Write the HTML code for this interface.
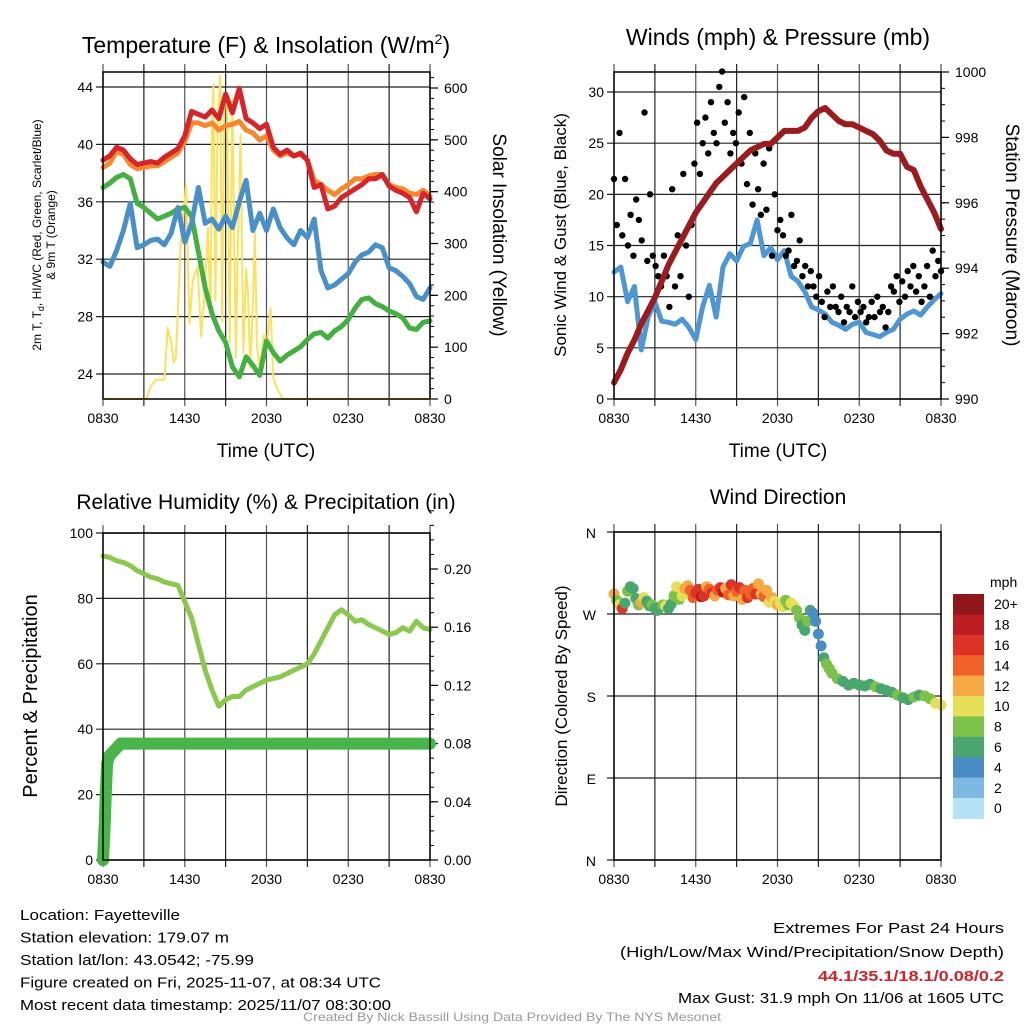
<!DOCTYPE html>
<html><head><meta charset="utf-8">
<style>
html,body{margin:0;padding:0;background:#fff;}
svg{display:block;font-family:"Liberation Sans",sans-serif;}
</style></head>
<body>
<svg id="root" xmlns="http://www.w3.org/2000/svg" width="1024" height="1024" viewBox="0 0 1024 1024"></svg>
<script>
// ---------- DATA ----------
const tempRed = [38.9,39.2,39.8,39.6,39.0,38.6,38.7,38.8,38.7,39.1,39.4,39.7,40.6,42.3,42.1,41.9,42.4,41.8,43.5,42.2,43.9,41.8,41.5,41.1,41.4,39.8,39.3,39.6,39.2,39.4,38.9,37.0,37.2,35.5,35.7,36.3,36.6,36.9,37.2,37.6,37.6,37.9,37.1,36.8,36.6,36.3,35.3,36.6,36.2];
const tempOrange = [38.4,38.7,39.5,39.3,38.6,38.3,38.4,38.5,38.5,38.8,39.1,39.4,40.2,41.5,41.5,41.3,41.5,41.0,41.3,41.4,41.6,41.0,40.8,40.3,40.6,39.6,39.2,39.4,39.2,39.3,38.9,37.5,37.2,36.8,36.5,36.9,37.2,37.6,37.6,37.8,37.9,37.9,37.2,37.0,36.9,36.6,36.5,36.8,36.4];
const tempGreen = [37.0,37.3,37.7,37.9,37.6,35.9,35.6,35.2,34.8,35.0,35.2,35.5,35.6,35.0,32.5,30.0,28.2,27.0,26.2,24.5,23.8,25.2,24.6,23.9,26.3,25.5,24.9,25.3,25.6,25.9,26.4,26.8,26.9,26.5,27.0,27.3,27.8,28.6,29.2,29.3,28.9,28.7,28.4,28.2,27.9,27.2,27.1,27.6,27.7];
const tempBlue = [31.8,31.5,32.6,34.0,35.9,32.8,33.0,33.3,33.4,33.0,33.8,35.6,33.2,34.5,37.0,34.5,34.8,34.1,35.0,34.2,36.0,37.5,34.0,35.2,34.0,35.5,34.2,33.5,33.0,34.0,33.5,34.8,31.2,30.0,30.2,30.6,31.0,31.8,32.3,32.5,33.0,32.8,31.4,31.2,30.8,30.3,29.4,29.2,30.0];
const solarT = [0,3.2,3.5,3.9,4.5,4.75,5.0,5.2,5.35,5.7,6.1,6.35,6.6,6.95,7.2,7.45,7.7,7.9,8.0,8.1,8.25,8.4,8.6,8.75,8.9,9.1,9.3,9.5,9.75,9.9,10.1,10.3,10.5,10.65,10.8,11.0,11.15,11.3,11.5,11.8,12.0,12.3,12.5,12.8,13.2,24];
const solarV = [0,0,25,37,37,137,110,70,80,300,413,145,230,255,120,200,330,160,520,606,190,520,624,150,560,590,110,580,80,300,510,90,250,200,60,180,320,100,60,124,100,175,40,19,0,0];
const windSpeed = [12.4,12.9,9.5,11,4.8,8,9.5,7.6,7.5,7.3,7.8,7.0,5.8,9.0,11.1,8.0,12.9,14.2,13.5,14.9,15.2,17.5,14.0,14.8,13.6,14.5,12.0,11.5,10.5,9.0,8.7,8.3,7.5,7.2,6.8,7.3,7.5,6.5,6.3,6.1,6.5,6.8,7.8,8.3,8.6,8.2,9.0,9.7,10.3];
const windGust = [21.5,17,26,16,21.5,15,18,14,19.5,17.5,15.5,28,13.5,20,14,13,12,11,14,12,9,20.5,11,16,12,22,15,10,17,23,27,22,25,27.5,24,29,26,25,30.5,32,27,29,24,26,25,28,23,29.5,21,26,19,24,20.5,18,23,18.5,24.5,14,20,16.5,17.5,16,14,14.5,18,13,13.5,15.5,12,13,11,12.5,11,10,12,9.5,8,10.5,9,11,9,8.5,10,7.5,9,8.5,11,8,9.5,8.5,9,7.5,8,9.5,8,10,8.5,9,7,8.5,11,10.5,12,9.5,11.5,10,12.5,11,13,10.5,12,9.5,11,13,10,14.5,12,13.5,12.5];
const pressure = [990.5,990.9,991.4,991.8,992.3,992.7,993.1,993.6,994.1,994.5,994.9,995.3,995.7,996.0,996.3,996.6,996.8,997.0,997.2,997.4,997.6,997.7,997.8,997.8,998.0,998.2,998.2,998.2,998.3,998.6,998.8,998.9,998.7,998.5,998.4,998.4,998.3,998.2,998.1,997.9,997.6,997.5,997.5,997.1,997.0,996.5,996.1,995.7,995.2];
const rh = [93,92.5,91.5,91,90,88.5,87.5,86.5,86,85,84.5,84,79,74,66,58,52,47,49,50,50,52,53,54,55,55.5,56,57,58,59,60,63,67,71,75,76.5,75,73,73.5,72,71,70,69,69.5,71,70,73,71,70.5];
const precipT = [0,0.05,0.1,0.15,0.2,0.3,0.4,0.5,0.7,0.9,1.1,1.3,1.6,2,4,8,12,16,20,24];
const precipV = [0,0.01,0.02,0.028,0.045,0.066,0.07,0.072,0.074,0.076,0.078,0.08,0.08,0.08,0.08,0.08,0.08,0.08,0.08,0.08];
const dirT = [0,0.2,0.4,0.6,0.8,1.0,1.2,1.4,1.6,1.8,2.0,2.2,2.4,2.6,2.8,3.0,3.2,3.4,3.6,3.8,4.0,4.2,4.4,4.6,4.8,5.0,5.2,5.4,5.6,5.8,6.0,6.2,6.4,6.6,6.8,7.0,7.2,7.4,7.6,7.8,8.0,8.2,8.4,8.6,8.8,9.0,9.2,9.4,9.6,9.8,10.0,10.2,10.4,10.6,10.8,11.0,11.2,11.4,11.6,11.8,12.0,12.2,12.4,12.6,12.8,13.0,13.2,13.4,13.6,13.8,14.0,14.2,14.4,14.6,14.8,15.0,15.2,15.4,15.6,15.8,16.0,16.4,16.8,17.2,17.6,18.0,18.4,18.8,19.2,19.6,20.0,20.4,20.8,21.2,21.6,22.0,22.4,22.8,23.2,23.6,24.0];
const dirDeg = [292,285,280,276,282,295,300,298,287,280,283,288,284,279,280,276,274,278,280,279,276,281,290,300,286,290,298,301,296,288,293,297,289,290,300,297,293,290,296,299,294,298,291,302,290,295,299,286,296,288,292,298,292,303,292,289,296,283,288,284,280,282,278,285,280,282,279,274,266,258,252,262,274,271,262,248,235,222,215,210,205,199,196,192,194,192,191,193,190,188,186,184,181,178,176,179,181,180,177,172,170];
const dirSpd = [12,9,10,16,7,8,6,7,6,8,12,10,7,6,8,6,7,6,8,10,7,6,9,11,9,10,12,13,15,14,16,17,18,16,13,15,17,12,14,16,18,13,15,17,12,14,16,13,15,17,14,15,16,13,12,14,13,11,12,10,12,11,10,9,8,11,10,9,8,7,7,8,6,4,5,4,5,7,8,9,8,9,7,6,7,7,6,7,8,7,6,7,8,6,7,8,7,8,8,10,11];
const speedColors = ["#b5e2f6","#7eb9e1","#4a8dc6","#4aa66f","#7cc24a","#e5df57","#f6a843","#f06128","#dd3327","#bb1d23","#8f1619"];
const speedLabels = ["0","2","4","6","8","10","12","14","16","18","20+"];
const timeTicks = ["0830","1430","2030","0230","0830"];
const tempTicks = [24,28,32,36,40,44];
const solarTicks = [0,100,200,300,400,500,600];
const windTicks = [0,5,10,15,20,25,30];
const presTicks = [990,992,994,996,998,1000];
const rhTicks = [0,20,40,60,80,100];
const precipTicks = [0,0.04,0.08,0.12,0.16,0.2];
const dirLabels = ["N","E","S","W","N"];
const dirValues = [0,90,180,270,360];

// ---------- HELPERS ----------
const NS="http://www.w3.org/2000/svg";
const root=document.getElementById('root');
function el(tag,attrs,parent){const e=document.createElementNS(NS,tag);for(const k in attrs)e.setAttribute(k,attrs[k]);(parent||root).appendChild(e);return e;}
function txt(s,x,y,size,anchor,parent,extra){const e=el('text',Object.assign({x:x,y:y,'font-size':size,'text-anchor':anchor||'start',fill:'#000'},extra||{}),parent);e.textContent=s;return e;}

function panel(name,x0,y0,w,h){
  const g=el('g',{});
  
  
  const xs=t=>x0+t/24*w;
  for(let i=0;i<=8;i++){
    const x=xs(i*3);
    const l=el('line',{x1:x,x2:x,y1:y0-8,y2:y0+h+7,stroke:i%2?'#222':'#555','stroke-width':1.2},g);
    
    
  }
  timeTicks.forEach((s,i)=>{const t=txt(s,xs(i*6),y0+h+24,14,'middle',g);
    
    });
  return {g,xs,x0,y0,w,h};
}
function hgrid(p,vals,ys,withGrid){
  vals.forEach(v=>{const y=ys(v);
    if(withGrid){const l=el('line',{x1:p.x0-7,x2:p.x0+p.w,y1:y,y2:y,stroke:'#222','stroke-width':1.2},p.g);
      
      }
  });
}
function leftLabels(p,vals,ys,fmt){
  vals.forEach(v=>{const t=txt(fmt?fmt(v):String(v),p.x0-10,ys(v)+5,14,'end',p.g);
    
    });
}
function rightAxis(p,vals,ys,fmt,minorStep,lo,hi){
  for(let v=lo;v<=hi+1e-9;v+=minorStep){const y=ys(v);el('line',{x1:p.x0+p.w,x2:p.x0+p.w+4,y1:y,y2:y,stroke:'#000','stroke-width':1},p.g);}
  vals.forEach(v=>{const y=ys(v);
    el('line',{x1:p.x0+p.w,x2:p.x0+p.w+8,y1:y,y2:y,stroke:'#000','stroke-width':1.2},p.g);
    const t=txt(fmt?fmt(v):String(v),p.x0+p.w+14,y+5,14,'start',p.g);
    
    });
}
function frame(p){const r=el('rect',{x:p.x0,y:p.y0,width:p.w,height:p.h,fill:'none',stroke:'#000','stroke-width':1.5},p.g);
  
  }
function series(p,vals,ys,color,width,name){
  const n=vals.length;
  const pts=vals.map((v,i)=>p.xs(i*24/(n-1)).toFixed(1)+','+ys(v).toFixed(1)).join(' ');
  const l=el('polyline',{points:pts,fill:'none',stroke:color,'stroke-width':width,'stroke-linejoin':'round','stroke-linecap':'round'},p.g);
  
  
  return l;
}
function seriesXY(p,ts,vals,ys,color,width,name){
  const pts=vals.map((v,i)=>p.xs(ts[i]).toFixed(1)+','+ys(v).toFixed(1)).join(' ');
  const l=el('polyline',{points:pts,fill:'none',stroke:color,'stroke-width':width,'stroke-linejoin':'round','stroke-linecap':'round'},p.g);
  
  
  return l;
}
function rotText(s,x,y,size,angle,name,extra){
  const t=txt(s,x,y,size,'middle',root,Object.assign({transform:'rotate('+angle+' '+x+' '+y+')'},extra||{}));
  
  
  return t;
}

// ---------- PANEL 1 ----------
const p1=panel('temperature-panel',103,72,327,327);
const yT=v=>374-(v-24)*14.35;
const yS=v=>399-v*0.5183;
hgrid(p1,tempTicks,yT,true);
leftLabels(p1,tempTicks,yT);
rightAxis(p1,solarTicks,yS,null,20,0,620);
seriesXY(p1,solarT,solarV,yS,'#fbe25a',2,'solar-insolation-line');
series(p1,tempGreen,yT,'#44b041',5,'dewpoint-line');
series(p1,tempBlue,yT,'#4a90c8',5,'wind-chill-line');
series(p1,tempOrange,yT,'#f68930',5,'temp-9m-line');
series(p1,tempRed,yT,'#d7242a',5,'temp-2m-line');
frame(p1);
{const t=el('text',{x:266,y:53,'font-size':23,'text-anchor':'middle'});
 t.innerHTML='Temperature (F) &amp; Insolation (W/m<tspan font-size="14" dy="-9">2</tspan><tspan dy="9">)</tspan>';}
{const t=txt('Time (UTC)',266,457,19,'middle');}
{const t=el('text',{x:0,y:0,'font-size':12,'text-anchor':'middle',transform:'translate(41,235) rotate(-90)'});
 t.innerHTML='2m T, T<tspan font-size="9" dy="3">d</tspan><tspan dy="-3">, HI/WC (Red, Green, Scarlet/Blue)</tspan>';
 const t2=txt('& 9m T (Orange)',0,0,12,'middle',root,{transform:'translate(55,235) rotate(-90)'});}
rotText('Solar Insolation (Yellow)',493,235,19,90,'solar-y-axis-title');

// ---------- PANEL 2 ----------
const p2=panel('winds-panel',614,72,327,327);
const yW=v=>399-v*10.233;
const yP=v=>399-(v-990)*32.7;
hgrid(p2,windTicks,yW,true);
leftLabels(p2,windTicks,yW);
rightAxis(p2,presTicks,yP,null,0.5,990,1000);
series(p2,windSpeed,yW,'#4f97d2',5,'sonic-wind-line');
{const n=windGust.length;
 windGust.forEach((v,i)=>{const c=el('circle',{cx:p2.xs(i*24/(n-1)).toFixed(1),cy:yW(v).toFixed(1),r:3.2,fill:'#000'},p2.g);
   
   });}
series(p2,pressure,yP,'#9b1b1e',6,'pressure-line');
frame(p2);
{const t=txt('Winds (mph) & Pressure (mb)',778,45,23,'middle');}
{const t=txt('Time (UTC)',778,457,19,'middle');}
rotText('Sonic Wind & Gust (Blue, Black)',566,235,17,-90,'wind-y-axis-title');
rotText('Station Pressure (Maroon)',1006,235,19,90,'pressure-y-axis-title');

// ---------- PANEL 3 ----------
const p3=panel('humidity-panel',103,533,327,327);
const yR=v=>860-v*3.27;
const yQ=v=>860-v*1455;
hgrid(p3,rhTicks,yR,true);
leftLabels(p3,rhTicks,yR);
rightAxis(p3,precipTicks,yQ,v=>v.toFixed(2),0.01,0,0.24);
series(p3,rh,yR,'#8bc94e',5,'relative-humidity-line');
seriesXY(p3,precipT,precipV,yQ,'#48b449',12,'precipitation-line');
precipT.forEach((t,i)=>{if(t>2)return;const c=el('circle',{cx:p3.xs(t).toFixed(1),cy:yQ(precipV[i]).toFixed(1),r:6,fill:'#48b449'},p3.g);
  
  });
frame(p3);
{const t=txt('Relative Humidity (%) & Precipitation (in)',266,509,21,'middle');}
rotText('Percent & Precipitation',37,696,20,-90,'humidity-y-axis-title');

// ---------- PANEL 4 ----------
const p4=panel('wind-direction-panel',614,532,327,328);
const yD=v=>860-v/360*328;
hgrid(p4,dirValues,yD,true);
dirValues.forEach((v,i)=>{const t=txt(dirLabels[i],596,yD(v)+6,14,'end',p4.g);
  
  });
function spdColor(s){return speedColors[Math.min(10,Math.max(0,Math.floor(s/2)))];}
dirT.forEach((t,i)=>{const c=el('circle',{cx:p4.xs(t).toFixed(1),cy:yD(dirDeg[i]).toFixed(1),r:5.5,fill:spdColor(dirSpd[i])},p4.g);
  
  });
frame(p4);
{const t=txt('Wind Direction',778,504,21,'middle');}
rotText('Direction (Colored By Speed)',567,696,17,-90,'direction-y-axis-title');
{const g=el('g',{});
 const segH=20.4, top=594;
 for(let i=0;i<11;i++){const idx=10-i;
   const r=el('rect',{x:953,y:(top+i*segH).toFixed(1),width:31,height:(segH+0.5).toFixed(1),fill:speedColors[idx]},g);
   
   
   const t=txt(speedLabels[idx],994,top+i*segH+segH/2+5,14,'start',g);
   
   }
 const m=txt('mph',990,587,14,'start',g);}

// ---------- FOOTER ----------
const narrow={'font-family':'"Liberation Sans Narrow","Liberation Sans",sans-serif'};
const leftLines=[["Location: Fayetteville",160],["Station elevation: 179.07 m",209],["Station lat/lon: 43.0542; -75.99",234],["Figure created on Fri, 2025-11-07, at 08:34 UTC",361],["Most recent data timestamp: 2025/11/07 08:30:00",371]];
leftLines.forEach((l,i)=>{const t=txt(l[0],20,920+i*22.5,15,'start',root,Object.assign({textLength:l[1],lengthAdjust:'spacingAndGlyphs'},narrow));
  
  });
const rightLines=[["Extremes For Past 24 Hours",1004,933,'#000','normal',231],["(High/Low/Max Wind/Precipitation/Snow Depth)",1004,957,'#000','normal',384],["44.1/35.1/18.1/0.08/0.2",1004,981,'#d3222a','bold',186],["Max Gust: 31.9 mph On 11/06 at 1605 UTC",1004,1003,'#000','normal',326]];
rightLines.forEach(l=>{const t=txt(l[0],l[1]-l[5],l[2],15,'start',root,Object.assign({fill:l[3],'font-weight':l[4],textLength:l[5],lengthAdjust:'spacingAndGlyphs'},narrow));
  
  });
{const t=txt('Created By Nick Bassill Using Data Provided By The NYS Mesonet',512,1021,12,'middle',root,Object.assign({fill:'#999',textLength:418,lengthAdjust:'spacingAndGlyphs'},narrow));
 }
</script>
</body></html>
